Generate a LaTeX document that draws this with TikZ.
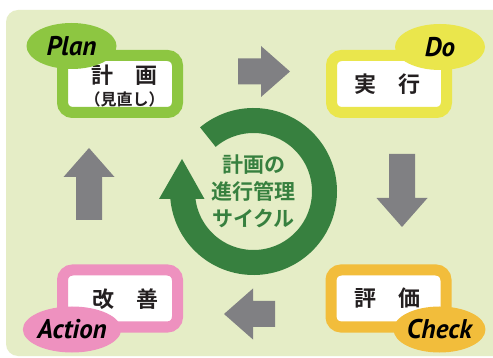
\documentclass[tikz,border=0pt]{standalone}
\usepackage{fontspec}
\newfontfamily\jp{Noto Sans CJK JP}[BoldFont={Noto Sans CJK JP Bold}]
\newfontfamily\lat{PT Sans}
\usetikzlibrary{shapes.geometric}
\definecolor{bgc}{HTML}{E5EDC6}
\definecolor{plangreen}{HTML}{8DC641}
\definecolor{doyellow}{HTML}{EAE64C}
\definecolor{checkorange}{HTML}{F2BD3B}
\definecolor{actpink}{HTML}{EE91BF}
\definecolor{arrowgray}{HTML}{808083}
\definecolor{ringgreen}{HTML}{37803F}
\definecolor{ink}{HTML}{231F20}
\begin{document}
\begin{tikzpicture}[x=1pt,y=-1pt,
  stagebox/.style={draw=#1, line width=11pt, fill=white, rounded corners=10pt,
    minimum width=115pt, minimum height=57pt, inner sep=0pt},
  tagoval/.style={ellipse, fill=#1, minimum width=90pt, minimum height=46pt, inner sep=0pt,
    font=\lat\bfseries\itshape\fontsize{27}{27}\selectfont, text=black},
  jptext/.style={inner sep=0pt, text=ink, font=\jp\bfseries\fontsize{22}{26}\selectfont},
  jpsmall/.style={inner sep=0pt, text=ink, font=\jp\bfseries\fontsize{16}{18}\selectfont},
  pics/blockarrow/.style={code={
    \fill[arrowgray] (0,-13) -- (#1-29,-13) -- (#1-29,-25.5) -- (#1,0)
      -- (#1-29,25.5) -- (#1-29,13) -- (0,13) -- cycle;}}
]
\useasboundingbox (0,0) rectangle (493,358);
\fill[white] (0,0) rectangle (493,358);
\fill[bgc, rounded corners=12pt] (6,10) rectangle (505,356);

% stage boxes
\node[stagebox=plangreen] (plan) at (120,84) {};
\node[stagebox=doyellow] (do) at (389,84) {};
\node[stagebox=actpink] (act) at (120,298.5) {};
\node[stagebox=checkorange] (check) at (388.5,298.5) {};

% box texts
\node[jptext] (planT) at (124.5,75) {計　画};
\node[jpsmall] (planS) at (124.5,99.5) {（見直し）};
\node[jptext] (doT) at (387.5,84) {実　行};
\node[jptext] (actT) at (125,299.5) {改　善};
\node[jptext] (checkT) at (387.5,298) {評　価};

% tags
\node[tagoval=plangreen] (planTag) at (71.5,46) {Plan};
\node[tagoval=doyellow] (doTag) at (440,47) {Do};
\node[tagoval=actpink] (actTag) at (72,329.5) {Action};
\node[tagoval=checkorange] (checkTag) at (439.5,329.5) {Check};

% block arrows
\pic at (238,71.5) {blockarrow=52};
\pic[rotate=-90] at (402,154) {blockarrow=73};
\pic[rotate=180] at (275,314) {blockarrow=51};
\pic[rotate=90] at (89,220) {blockarrow=72};

% cycle ring
\coordinate (ringc) at (253.5,191.5);
\draw[ringgreen, line width=25pt] ([shift={(-130:71)}]ringc) arc[start angle=-130, end angle=180, radius=71];
\fill[ringgreen] (159,199) -- (182,159) -- (204.5,199) -- cycle;
\node[inner sep=0pt, align=center, text=ringgreen,
  font=\jp\bfseries\fontsize{21}{27}\selectfont] (title) at (253.5,191) {計画の\\進行管理\\サイクル};
\end{tikzpicture}
\end{document}
